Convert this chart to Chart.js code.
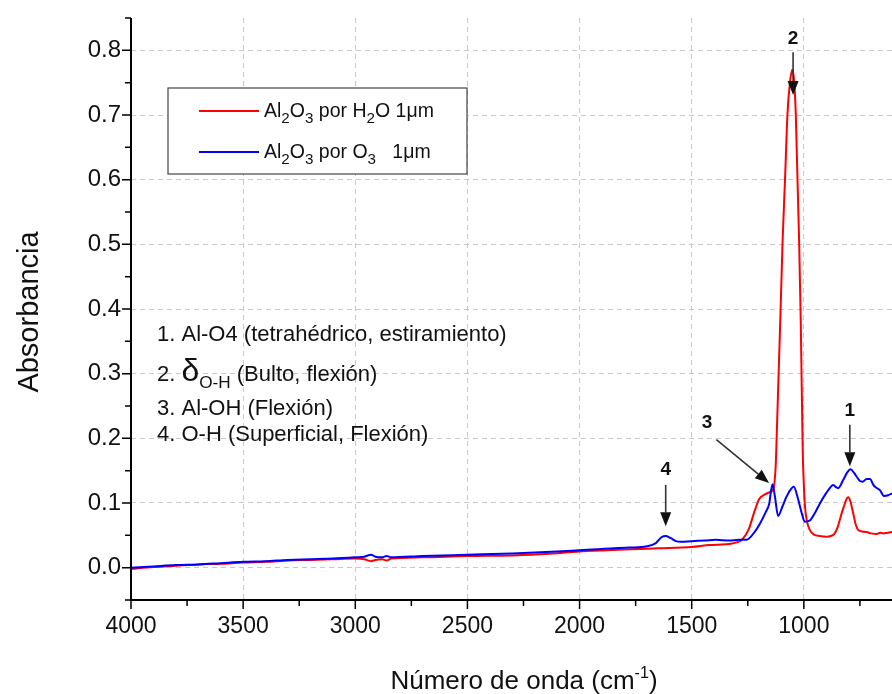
<!DOCTYPE html>
<html>
<head>
<meta charset="utf-8">
<script src="https://cdn.jsdelivr.net/npm/chart.js@4.4.0/dist/chart.umd.min.js"></script>
<style>
  html, body { margin: 0; padding: 0; background: #fff; }
</style>
</head>
<body>
<canvas id="myChart" width="892" height="694"></canvas>
<script>
// FTIR spectra, wavenumber (cm-1) vs absorbance
const waveH2O = [4000, 3900, 3800, 3700, 3600, 3500, 3400, 3300, 3200, 3100, 3000, 2960, 2930, 2910, 2880, 2860, 2840,
  2700, 2500, 2300, 2150, 2000, 1800, 1650, 1500, 1420, 1320, 1274, 1245, 1222, 1199, 1175, 1150, 1137, 1130, 1125,
  1123, 1105, 1095, 1084, 1073, 1062, 1052, 1044, 1036, 1021, 1014, 1005, 1001, 995, 985, 973, 955, 930, 899, 880,
  865, 850, 835, 824, 810, 802, 793, 780, 768, 757, 740, 720, 700, 676, 660, 646, 625, 607];
const absH2O = [-0.002, 0.001, 0.003, 0.005, 0.006, 0.008, 0.009, 0.011, 0.012, 0.013, 0.014, 0.013, 0.010, 0.012, 0.013, 0.011, 0.014,
  0.016, 0.018, 0.019, 0.021, 0.025, 0.028, 0.030, 0.032, 0.035, 0.0375, 0.044, 0.060, 0.085, 0.106, 0.113, 0.117, 0.120, 0.135, 0.161,
  0.182, 0.384, 0.503, 0.600, 0.702, 0.750, 0.770, 0.755, 0.702, 0.503, 0.384, 0.180, 0.136, 0.095, 0.070, 0.058, 0.051, 0.049, 0.048, 0.049,
  0.052, 0.062, 0.080, 0.092, 0.106, 0.109, 0.103, 0.084, 0.066, 0.058, 0.056, 0.055, 0.053, 0.052, 0.054, 0.053, 0.054, 0.055];

const waveO3 = [4000, 3900, 3800, 3700, 3600, 3500, 3400, 3300, 3200, 3100, 3000, 2960, 2930, 2910, 2880, 2860, 2840,
  2700, 2500, 2300, 2100, 2000, 1900, 1780, 1700, 1660, 1635, 1616, 1595, 1570, 1549, 1500, 1440, 1393, 1333, 1290,
  1256, 1220, 1196, 1170, 1155, 1140, 1129, 1115, 1095, 1077, 1045, 1025, 1010, 996, 973, 950, 929, 905, 891, 869,
  855, 847, 824, 805, 792, 775, 765, 750, 738, 720, 705, 690, 683, 661, 643, 624, 607];
const absO3 = [0.000, 0.002, 0.004, 0.005, 0.007, 0.009, 0.010, 0.012, 0.013, 0.014, 0.016, 0.017, 0.020, 0.017, 0.016, 0.018, 0.016,
  0.018, 0.020, 0.022, 0.025, 0.027, 0.029, 0.031, 0.033, 0.038, 0.047, 0.049, 0.046, 0.041, 0.040, 0.041, 0.042, 0.043, 0.042, 0.043,
  0.043, 0.055, 0.068, 0.086, 0.098, 0.129, 0.110, 0.080, 0.095, 0.110, 0.125, 0.105, 0.085, 0.071, 0.073, 0.085, 0.099, 0.113, 0.120, 0.128,
  0.124, 0.123, 0.136, 0.148, 0.152, 0.146, 0.141, 0.134, 0.133, 0.137, 0.137, 0.128, 0.125, 0.120, 0.111, 0.112, 0.115];

const xTickValues = [4000, 3500, 3000, 2500, 2000, 1500, 1000];
const yTickValues = [0.0, 0.1, 0.2, 0.3, 0.4, 0.5, 0.6, 0.7, 0.8];

// numbered band markers: label, wavenumber, label height, arrow start, arrow tip
const bandLabels = ['1', '2', '3', '4'];
const bandLabelX = [795, 1048, 1432, 1616];
const bandLabelY = [0.242, 0.818, 0.224, 0.152];
const arrowFromX = [795, 1048, 1390, 1616];
const arrowFromY = [0.221, 0.797, 0.198, 0.128];
const arrowToX = [795, 1048, 1155, 1616];
const arrowToY = [0.157, 0.731, 0.131, 0.064];

const FONT = '"Liberation Sans", Arial, sans-serif';

function toPoints(xs, ys) {
  return xs.map(function (x, i) { return { x: x, y: ys[i] }; });
}

// draws a run of text pieces, some of them sub/superscripted
function richText(ctx, parts, x, y, size) {
  ctx.textBaseline = 'alphabetic';
  ctx.textAlign = 'left';
  for (var i = 0; i < parts.length; i++) {
    var p = parts[i];
    var s = size, dy = 0;
    if (p.sub) { s = size * 0.78; dy = size * 0.32; }
    if (p.sup) { s = size * 0.62; dy = -size * 0.42; }
    if (p.scale) s = size * p.scale;
    ctx.font = s + 'px ' + FONT;
    ctx.fillText(p.t, x, y + dy);
    x += ctx.measureText(p.t).width;
  }
  return x;
}

function richWidth(ctx, parts, size) {
  var w = 0;
  for (var i = 0; i < parts.length; i++) {
    var p = parts[i];
    var s = p.sub ? size * 0.78 : p.sup ? size * 0.62 : size;
    ctx.font = s + 'px ' + FONT;
    w += ctx.measureText(p.t).width;
  }
  return w;
}

function arrow(ctx, x1, y1, x2, y2) {
  var ang = Math.atan2(y2 - y1, x2 - x1);
  var hl = 14, hw = 5.5;
  var bx = x2 - hl * Math.cos(ang), by = y2 - hl * Math.sin(ang);
  ctx.strokeStyle = '#333';
  ctx.lineWidth = 1.6;
  ctx.beginPath();
  ctx.moveTo(x1, y1);
  ctx.lineTo(bx, by);
  ctx.stroke();
  ctx.fillStyle = '#111';
  ctx.beginPath();
  ctx.moveTo(x2, y2);
  ctx.lineTo(bx + hw * Math.sin(ang), by - hw * Math.cos(ang));
  ctx.lineTo(bx - hw * Math.sin(ang), by + hw * Math.cos(ang));
  ctx.closePath();
  ctx.fill();
}

const decorations = {
  id: 'decorations',
  afterDraw: function (chart) {
    var ctx = chart.ctx;
    var xs = chart.scales.x, ys = chart.scales.y;
    var a = chart.chartArea;
    ctx.save();

    // axes with major and minor ticks
    ctx.strokeStyle = '#000';
    ctx.lineWidth = 2;
    ctx.beginPath();
    ctx.moveTo(a.left, a.top);
    ctx.lineTo(a.left, a.bottom);
    ctx.lineTo(a.right, a.bottom);
    ctx.stroke();
    ctx.lineWidth = 1.5;
    ctx.beginPath();
    for (var w = 4000; w >= xs.min; w -= 250) {
      var px = xs.getPixelForValue(w);
      var len = (w % 500 === 0) ? 9 : 6;
      ctx.moveTo(px, a.bottom);
      ctx.lineTo(px, a.bottom + len);
    }
    for (var k = -1; k <= 17; k++) {
      var py = ys.getPixelForValue(k * 0.05);
      var l2 = (k % 2 === 0) ? 9 : 6;
      ctx.moveTo(a.left, py);
      ctx.lineTo(a.left - l2, py);
    }
    ctx.stroke();

    // axis titles
    ctx.fillStyle = '#111';
    ctx.save();
    ctx.translate(30, 312);
    ctx.rotate(-Math.PI / 2);
    ctx.font = '29px ' + FONT;
    ctx.textAlign = 'center';
    ctx.textBaseline = 'middle';
    ctx.fillText('Absorbancia', 0, 0);
    ctx.restore();

    var title = [{ t: 'Número de onda (cm' }, { t: '-1', sup: true }, { t: ')' }];
    var tw = richWidth(ctx, title, 26);
    richText(ctx, title, 524 - tw / 2, 689, 26);

    // legend box
    var lx = 168, ly = 88, lw = 299, lh = 86;
    ctx.fillStyle = '#fff';
    ctx.fillRect(lx, ly, lw, lh);
    ctx.strokeStyle = '#444';
    ctx.lineWidth = 1.2;
    ctx.strokeRect(lx, ly, lw, lh);
    var rows = [
      { color: '#ff0000', parts: [{ t: 'Al' }, { t: '2', sub: true }, { t: 'O' }, { t: '3', sub: true }, { t: ' por H' }, { t: '2', sub: true }, { t: 'O 1\u03bcm' }] },
      { color: '#0000ff', parts: [{ t: 'Al' }, { t: '2', sub: true }, { t: 'O' }, { t: '3', sub: true }, { t: ' por O' }, { t: '3', sub: true }, { t: '   1\u03bcm' }] }
    ];
    for (var r = 0; r < rows.length; r++) {
      var cy = ly + 23 + r * 41;
      ctx.strokeStyle = rows[r].color;
      ctx.lineWidth = 2;
      ctx.beginPath();
      ctx.moveTo(lx + 31, cy);
      ctx.lineTo(lx + 91, cy);
      ctx.stroke();
      ctx.fillStyle = '#111';
      richText(ctx, rows[r].parts, lx + 96, cy + 6, 19.5);
    }

    // band assignment list
    var tx = 157;
    ctx.fillStyle = '#111';
    richText(ctx, [{ t: '1. Al-O4 (tetrahédrico, estiramiento)' }], tx, ys.getPixelForValue(0.361) + 7, 22);
    richText(ctx, [{ t: '2. ' }, { t: '\u03b4', scale: 1.45 }, { t: 'O-H', sub: true }, { t: ' (Bulto, flexión)' }], tx, ys.getPixelForValue(0.300) + 7, 22);
    richText(ctx, [{ t: '3. Al-OH (Flexión)' }], tx, ys.getPixelForValue(0.247) + 7, 22);
    richText(ctx, [{ t: '4. O-H (Superficial, Flexión)' }], tx, ys.getPixelForValue(0.206) + 7, 22);

    // numbered arrows
    for (var b = 0; b < bandLabels.length; b++) {
      arrow(ctx, xs.getPixelForValue(arrowFromX[b]), ys.getPixelForValue(arrowFromY[b]),
        xs.getPixelForValue(arrowToX[b]), ys.getPixelForValue(arrowToY[b]));
      ctx.fillStyle = '#111';
      ctx.font = 'bold 19px ' + FONT;
      ctx.textAlign = 'center';
      ctx.textBaseline = 'middle';
      ctx.fillText(bandLabels[b], xs.getPixelForValue(bandLabelX[b]), ys.getPixelForValue(bandLabelY[b]));
    }
    ctx.restore();
  }
};

const ctx = document.getElementById('myChart').getContext('2d');
const myChart = new Chart(ctx, {
  type: 'line',
  data: {
    datasets: [{
      label: 'Al2O3 por O3 1um',
      data: toPoints(waveO3, absO3),
      borderColor: '#0000ff',
      borderWidth: 2,
      pointRadius: 0,
      fill: false,
      cubicInterpolationMode: 'monotone',
      order: 0
    }, {
      label: 'Al2O3 por H2O 1um',
      data: toPoints(waveH2O, absH2O),
      borderColor: '#ff0000',
      borderWidth: 2,
      pointRadius: 0,
      fill: false,
      cubicInterpolationMode: 'monotone',
      order: 1
    }]
  },
  options: {
    responsive: false,
    animation: false,
    layout: { padding: { top: 18, right: 0, left: 0, bottom: 0 } },
    plugins: { legend: { display: false }, tooltip: { enabled: false } },
    scales: {
      x: {
        type: 'linear',
        reverse: true,
        min: 607,
        max: 4000,
        afterBuildTicks: function (scale) {
          scale.ticks = xTickValues.map(function (v) { return { value: v }; });
        },
        afterFit: function (scale) {
          scale.height = 94;
          scale.paddingLeft = 0;
          scale.paddingRight = 0;
        },
        grid: { color: '#c8c8c8', lineWidth: 1, drawTicks: false },
        border: { display: false, dash: [5, 4] },
        ticks: {
          padding: 13,
          color: '#111',
          font: { family: FONT, size: 23 },
          maxRotation: 0,
          callback: function (v) { return v; }
        }
      },
      y: {
        min: -0.05,
        max: 0.85,
        afterBuildTicks: function (scale) {
          scale.ticks = yTickValues.map(function (v) { return { value: v }; });
        },
        afterFit: function (scale) {
          scale.width = 131;
          scale.paddingTop = 0;
          scale.paddingBottom = 0;
        },
        grid: { color: '#c8c8c8', lineWidth: 1, drawTicks: false },
        border: { display: false, dash: [5, 4] },
        ticks: {
          padding: 10,
          color: '#111',
          font: { family: FONT, size: 24 },
          callback: function (v) { return v.toFixed(1); }
        }
      }
    }
  },
  plugins: [decorations]
});
</script>
</body>
</html>
